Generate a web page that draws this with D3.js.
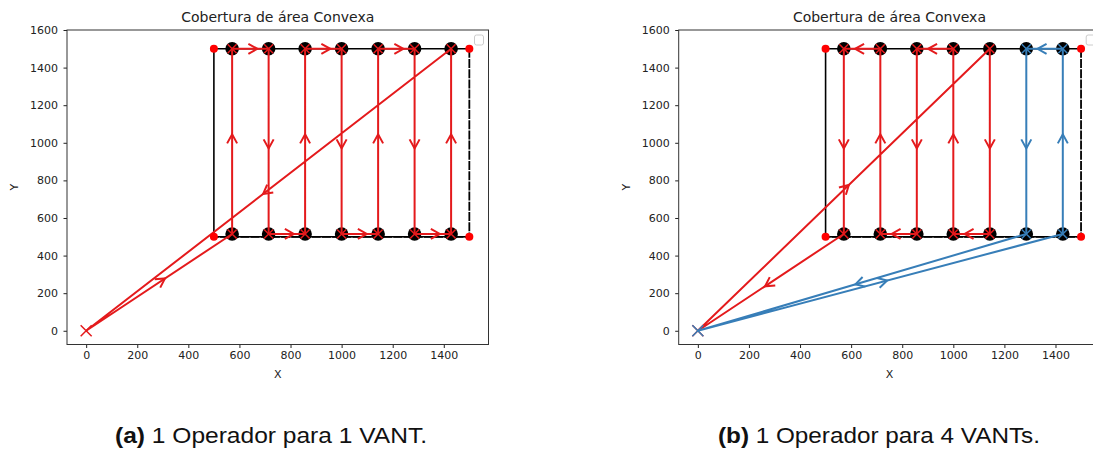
<!DOCTYPE html>
<html>
<head>
<meta charset="utf-8">
<script src="https://cdn.jsdelivr.net/npm/d3@7"></script>
<style>
	body { margin: 0; background: #fff; }
	svg { display: block; }
	.tick text { font-family: "DejaVu Sans", sans-serif; font-size: 11px; fill: #222; }
	.tick line { stroke: #222; }
	.domain { display: none; }
</style>
</head>
<body>
<script>
// waypoint columns (x) and the two rows they sit on
var columns = [571.4, 714.3, 857.1, 1000, 1142.9, 1285.7, 1428.6];
var rowBottom = 515;
var rowTop = 1500;
var areaCorners = [[500, 500], [500, 1500], [1500, 1500], [1500, 500]];
var xTicks = [0, 200, 400, 600, 800, 1000, 1200, 1400];
var yTicks = [0, 200, 400, 600, 800, 1000, 1200, 1400, 1600];

// routes, listed as column indexes and row ('b' / 't'); 'o' is the origin
var routeA = [['o'], [0, 'b'], [0, 't'], [1, 't'], [1, 'b'], [2, 'b'], [2, 't'], [3, 't'], [3, 'b'],
	[4, 'b'], [4, 't'], [5, 't'], [5, 'b'], [6, 'b'], [6, 't'], ['o']];
var routeBRed = [['o'], [4, 't'], [4, 'b'], [3, 'b'], [3, 't'], [2, 't'], [2, 'b'], [1, 'b'], [1, 't'],
	[0, 't'], [0, 'b'], ['o']];
var routeBBlue = [['o'], [6, 'b'], [6, 't'], [5, 't'], [5, 'b'], ['o']];

var RED = '#e41a1c';
var BLUE = '#377eb8';

var panels = [
	{ left: 67, caption: ['(a)', ' 1 Operador para 1 VANT.'], capX: 115, capW: 312,
		routes: [{ pts: routeA, color: RED }] },
	{ left: 678.7, caption: ['(b)', ' 1 Operador para 4 VANTs.'], capX: 718, capW: 322,
		routes: [{ pts: routeBRed, color: RED }, { pts: routeBBlue, color: BLUE }] }
];

var W = 1093, H = 450;
var plotW = 421.5, plotTop = 30, plotBottom = 344.5;

var svg = d3.select('body').append('svg').attr('width', W).attr('height', H);

function toPoint(p) {
	if (p[0] === 'o') return [0, 0];
	return [columns[p[0]], p[1] === 't' ? rowTop : rowBottom];
}

function xMarker(g, cx, cy, s, color, w) {
	g.append('path')
		.attr('d', 'M' + (cx - s) + ',' + (cy - s) + 'L' + (cx + s) + ',' + (cy + s) +
			'M' + (cx - s) + ',' + (cy + s) + 'L' + (cx + s) + ',' + (cy - s))
		.attr('stroke', color).attr('stroke-width', w).attr('fill', 'none');
}

panels.forEach(function(p) {
	var x = d3.scaleLinear().domain([-75, 1575]).range([p.left, p.left + plotW]);
	var y = d3.scaleLinear().domain([-73, 1600]).range([plotBottom, plotTop]);
	var g = svg.append('g');

	// axes
	g.append('g').attr('transform', 'translate(0,' + plotBottom + ')')
		.call(d3.axisBottom(x).tickValues(xTicks).tickFormat(d3.format('d')).tickSize(3.5).tickPadding(3.5));
	g.append('g').attr('transform', 'translate(' + p.left + ',0)')
		.call(d3.axisLeft(y).tickValues(yTicks).tickFormat(d3.format('d')).tickSize(3.5).tickPadding(5.5));

	g.append('rect')
		.attr('x', p.left).attr('y', plotTop).attr('width', plotW).attr('height', plotBottom - plotTop)
		.attr('fill', 'none').attr('stroke', '#333').attr('stroke-width', 1);

	// area outline
	var line = d3.line().x(function(d) { return x(d[0]); }).y(function(d) { return y(d[1]); });
	g.append('path')
		.attr('d', line([areaCorners[3], areaCorners[0], areaCorners[1], areaCorners[2]]))
		.attr('fill', 'none').attr('stroke', '#000').attr('stroke-width', 1.6);
	g.append('path')
		.attr('d', line([areaCorners[2], areaCorners[3], areaCorners[0]]))
		.attr('fill', 'none').attr('stroke', '#000').attr('stroke-width', 1.8)
		.attr('stroke-dasharray', '9,1.2');

	// waypoint discs
	var wps = [];
	columns.forEach(function(c) { wps.push([c, rowBottom]); wps.push([c, rowTop]); });
	g.selectAll('circle.wp').data(wps).enter().append('circle')
		.attr('class', 'wp')
		.attr('cx', function(d) { return x(d[0]); })
		.attr('cy', function(d) { return y(d[1]); })
		.attr('r', 6.8).attr('fill', '#000');

	// routes
	p.routes.forEach(function(r) {
		var pts = r.pts.map(toPoint);
		g.append('path').attr('d', line(pts))
			.attr('fill', 'none').attr('stroke', r.color).attr('stroke-width', 2)
			.attr('stroke-linejoin', 'round');
		for (var i = 0; i < pts.length - 1; i++) {
			var x0 = x(pts[i][0]), y0 = y(pts[i][1]), x1 = x(pts[i + 1][0]), y1 = y(pts[i + 1][1]);
			var len = Math.hypot(x1 - x0, y1 - y0);
			var ux = (x1 - x0) / len, uy = (y1 - y0) / len;
			var tx = (x0 + x1) / 2 + ux * 7, ty = (y0 + y1) / 2 + uy * 7;
			var bx = tx - ux * 9, by = ty - uy * 9;
			g.append('path')
				.attr('d', 'M' + (bx - uy * 5) + ',' + (by + ux * 5) + 'L' + tx + ',' + ty +
					'L' + (bx + uy * 5) + ',' + (by - ux * 5))
				.attr('fill', 'none').attr('stroke', r.color).attr('stroke-width', 2);
		}
		// x markers at the waypoints the route visits
		r.pts.forEach(function(q) {
			if (q[0] === 'o') return;
			var pt = toPoint(q);
			xMarker(g, x(pt[0]), y(pt[1]), 4.5, r.color, 1.5);
		});
		xMarker(g, x(0), y(0), 5.5, r.color, 1.5);
	});

	// area corners
	g.selectAll('circle.corner').data(areaCorners).enter().append('circle')
		.attr('class', 'corner')
		.attr('cx', function(d) { return x(d[0]); })
		.attr('cy', function(d) { return y(d[1]); })
		.attr('r', 4).attr('fill', 'red');

	// empty legend box
	g.append('rect')
		.attr('x', p.left + plotW - 14).attr('y', 35).attr('width', 9).attr('height', 10).attr('rx', 2)
		.attr('fill', '#fff').attr('stroke', '#ccc').attr('stroke-width', 1);

	// titles and labels
	g.append('text')
		.attr('x', p.left + plotW / 2).attr('y', 21.5).attr('text-anchor', 'middle')
		.style('font-family', '"DejaVu Sans", sans-serif').style('font-size', '14px').style('fill', '#222')
		.text('Cobertura de área Convexa');
	g.append('text')
		.attr('x', p.left + plotW / 2).attr('y', 378).attr('text-anchor', 'middle')
		.style('font-family', '"DejaVu Sans", sans-serif').style('font-size', '11px').style('fill', '#222')
		.text('X');
	g.append('text')
		.attr('transform', 'translate(' + (p.left - 49) + ',' + ((plotTop + plotBottom) / 2) + ') rotate(-90)')
		.attr('text-anchor', 'middle')
		.style('font-family', '"DejaVu Sans", sans-serif').style('font-size', '11px').style('fill', '#222')
		.text('Y');

	// caption
	var cap = svg.append('text')
		.attr('x', p.capX).attr('y', 443)
		.attr('textLength', p.capW).attr('lengthAdjust', 'spacingAndGlyphs')
		.style('font-family', '"Liberation Sans", Arial, sans-serif').style('font-size', '22px').style('fill', '#111');
	cap.append('tspan').style('font-weight', 'bold').text(p.caption[0]);
	cap.append('tspan').text(p.caption[1]);
});
</script>
</body>
</html>
